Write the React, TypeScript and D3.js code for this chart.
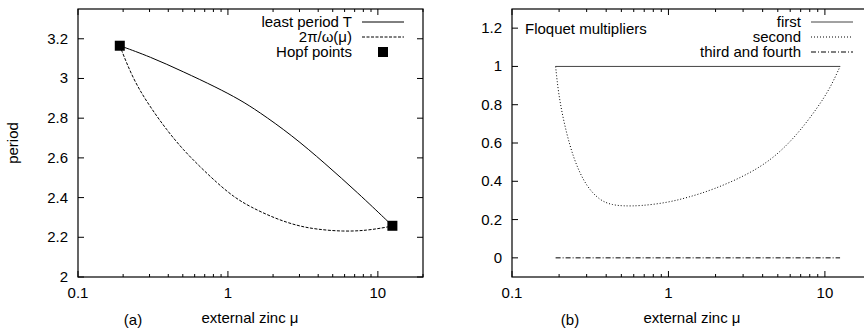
import React from "react";
import * as d3 from "d3";

// panel (a): period vs external zinc
const muT = [0.19, 0.302, 0.504, 0.84, 1.2, 1.59, 2.66, 4.43, 7.4, 11.7, 12.5];
const periodT = [3.165, 3.11, 3.034, 2.955, 2.893, 2.835, 2.715, 2.573, 2.422, 2.279, 2.258];
const muOmega = [0.19, 0.234, 0.302, 0.39, 0.504, 0.65, 0.84, 1.085, 1.4, 2.06, 2.9, 3.9, 5.87, 8.4, 11.7, 12.5];
const periodOmega = [3.165, 2.992, 2.858, 2.741, 2.64, 2.556, 2.476, 2.405, 2.354, 2.295, 2.258, 2.24, 2.229, 2.234, 2.252, 2.258];
const hopfMu = [0.19, 12.5];
const hopfPeriod = [3.165, 2.258];
const periodTicks = [2, 2.2, 2.4, 2.6, 2.8, 3, 3.2];

// panel (b): Floquet multipliers
const muFirst = [0.19, 12.5];
const firstVals = [1, 1];
const muSecond = [0.19, 0.198, 0.213, 0.235, 0.26, 0.3, 0.366, 0.44, 0.515, 0.659, 0.977, 1.34, 1.94, 3.18, 4.7, 6.63, 8.9, 10.8, 12.5];
const secondVals = [1.0, 0.86, 0.72, 0.581, 0.476, 0.372, 0.298, 0.276, 0.271, 0.271, 0.288, 0.316, 0.357, 0.433, 0.52, 0.642, 0.78, 0.886, 1.0];
const muThird = [0.19, 12.5];
const thirdVals = [0, 0];
const floquetTicks = [0, 0.2, 0.4, 0.6, 0.8, 1, 1.2];

const xMajor = [0.1, 1, 10];
const xLabels = ["0.1", "1", "10"];

const FONT = "'Liberation Sans', Arial, Helvetica, sans-serif";
const FS = 15;

type Series = { xs: number[]; ys: number[]; dash?: string; color?: string };

function Panel(props: {
  left: number;
  right: number;
  top: number;
  bottom: number;
  yDomain: [number, number];
  yTicks: number[];
  series: Series[];
  markers?: { xs: number[]; ys: number[] };
  tag: string;
  tagX: number;
  xLabelX: number;
}) {
  const { left, right, top, bottom } = props;
  const x = d3.scaleLog().domain([0.1, 20]).range([left, right]);
  const y = d3.scaleLinear().domain(props.yDomain).range([bottom, top]);
  const minor = x.ticks().filter((t) => !xMajor.some((m) => Math.abs(m - t) < 1e-9));
  const line = d3
    .line<[number, number]>()
    .x((d) => x(d[0]))
    .y((d) => y(d[1]))
    .curve(d3.curveBasis);

  return (
    <g>
      {props.series.map((s, i) => (
        <path
          key={i}
          d={line(s.xs.map((v, j) => [v, s.ys[j]]) as [number, number][]) || ""}
          fill="none"
          stroke={s.color || "#000"}
          strokeWidth={1}
          strokeDasharray={s.dash}
        />
      ))}
      {props.markers &&
        props.markers.xs.map((v, i) => (
          <rect key={i} x={x(v) - 5} y={y(props.markers!.ys[i]) - 5} width={10} height={10} fill="#000" />
        ))}
      <rect x={left} y={top} width={right - left} height={bottom - top} fill="none" stroke="#000" strokeWidth={1.2} />
      {xMajor.map((t, i) => (
        <g key={t}>
          <line x1={x(t)} x2={x(t)} y1={bottom} y2={bottom - 6} stroke="#000" />
          <line x1={x(t)} x2={x(t)} y1={top} y2={top + 6} stroke="#000" />
          <text x={x(t)} y={bottom + 21} textAnchor="middle" fontSize={FS} fontFamily={FONT}>
            {xLabels[i]}
          </text>
        </g>
      ))}
      {minor.map((t) => (
        <g key={t}>
          <line x1={x(t)} x2={x(t)} y1={bottom} y2={bottom - 3} stroke="#000" />
          <line x1={x(t)} x2={x(t)} y1={top} y2={top + 3} stroke="#000" />
        </g>
      ))}
      {props.yTicks.map((t) => (
        <g key={t}>
          <line x1={left} x2={left + 6} y1={y(t)} y2={y(t)} stroke="#000" />
          <line x1={right} x2={right - 6} y1={y(t)} y2={y(t)} stroke="#000" />
          <text x={left - 10} y={y(t) + 5} textAnchor="end" fontSize={FS} fontFamily={FONT}>
            {String(t)}
          </text>
        </g>
      ))}
      <text x={props.xLabelX} y={323} textAnchor="middle" fontSize={FS} fontFamily={FONT}>
        external zinc μ
      </text>
      <text x={props.tagX} y={325} textAnchor="middle" fontSize={FS} fontFamily={FONT}>
        {props.tag}
      </text>
    </g>
  );
}

function LegendRow(props: { x: number; y: number; label: string; dash?: string; square?: boolean; color?: string }) {
  return (
    <g>
      <text x={props.x} y={props.y + 5} textAnchor="end" fontSize={FS} fontFamily={FONT}>
        {props.label}
      </text>
      {props.square ? (
        <rect x={props.x + 26} y={props.y - 5} width={10} height={10} fill="#000" />
      ) : (
        <line
          x1={props.x + 10}
          x2={props.x + 52}
          y1={props.y}
          y2={props.y}
          stroke={props.color || "#000"}
          strokeDasharray={props.dash}
        />
      )}
    </g>
  );
}

export default function App() {
  return (
    <svg width={864} height={331} style={{ position: "absolute", left: 0, top: 0, background: "#fff" }}>
      <Panel
        left={78}
        right={423}
        top={9}
        bottom={277}
        yDomain={[2, 3.35]}
        yTicks={periodTicks}
        series={[
          { xs: muT, ys: periodT },
          { xs: muOmega, ys: periodOmega, dash: "3,1.5" },
        ]}
        markers={{ xs: hopfMu, ys: hopfPeriod }}
        tag="(a)"
        tagX={133}
        xLabelX={250}
      />
      <text transform="translate(18,143) rotate(-90)" textAnchor="middle" fontSize={FS} fontFamily={FONT}>
        period
      </text>
      <LegendRow x={352} y={22} label="least period T" />
      <LegendRow x={352} y={37} label="2π/ω(μ)" dash="3,1.5" />
      <LegendRow x={352} y={52} label="Hopf points" square />

      <Panel
        left={512}
        right={872}
        top={9}
        bottom={277}
        yDomain={[-0.1, 1.3]}
        yTicks={floquetTicks}
        series={[
          { xs: muFirst, ys: firstVals, color: "#444" },
          { xs: muSecond, ys: secondVals, dash: "1,2" },
          { xs: muThird, ys: thirdVals, dash: "5,2,1,2" },
        ]}
        tag="(b)"
        tagX={570}
        xLabelX={692}
      />
      <text x={525} y={34} fontSize={FS} fontFamily={FONT}>
        Floquet multipliers
      </text>
      <LegendRow x={801} y={22} label="first" color="#444" />
      <LegendRow x={801} y={37} label="second" dash="1,2" />
      <LegendRow x={801} y={52} label="third and fourth" dash="5,2,1,2" />
    </svg>
  );
}
